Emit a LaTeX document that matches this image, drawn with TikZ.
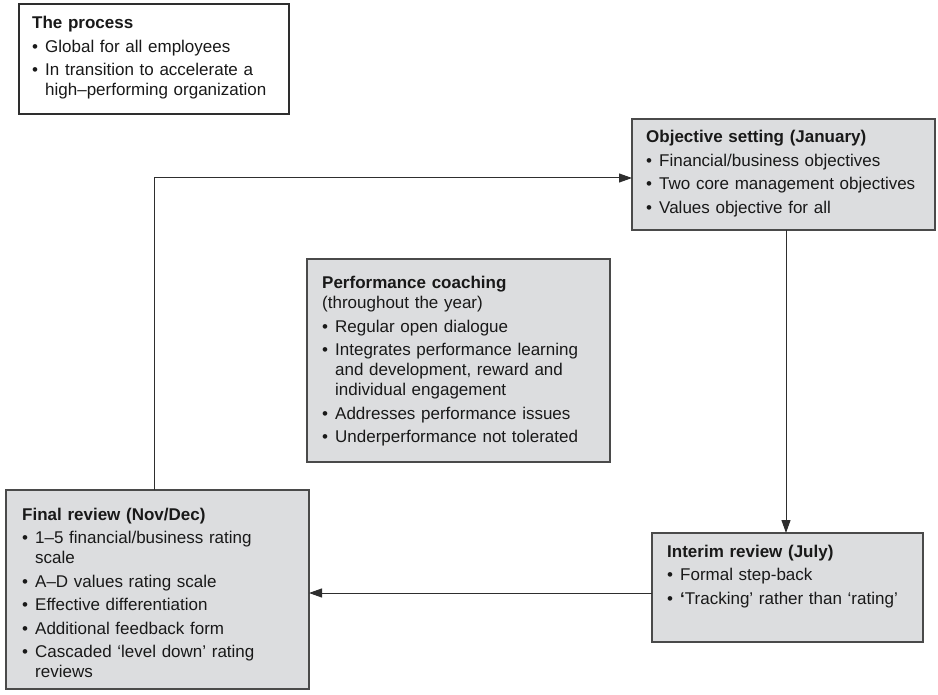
\documentclass[tikz,border=0pt]{standalone}
\usepackage{fontspec}
\setmainfont{Liberation Sans}
\usetikzlibrary{arrows.meta}
\definecolor{boxfill}{HTML}{DCDDDF}
\definecolor{boxedge}{HTML}{4A4A4A}
\definecolor{linkcol}{HTML}{2E2E2E}
% bulleted entry with a hanging indent for wrapped lines
\newcommand{\bitem}[1]{\par\vspace{3.5pt}\noindent\hangindent=13pt\hangafter=1\relax\makebox[13pt][l]{\textbullet}#1\par}
\begin{document}
\begin{tikzpicture}[x=1pt,y=-1pt,
  panel/.style={draw=boxedge, line width=1.3pt, fill=boxfill, anchor=north west, inner sep=0pt, outer sep=0pt},
  plainpanel/.style={panel, fill=white, draw=linkcol, line width=1.1pt},
  txt/.style={anchor=base west, inner sep=0pt, font=\fontsize{17}{20}\selectfont, text=black!90},
  link/.style={draw=linkcol, line width=1pt},
  arrowlink/.style={link, -{Triangle[length=13pt,width=9pt]}}]
\useasboundingbox (0,0) rectangle (938,695);

% panels
\node[plainpanel, minimum width=270pt, minimum height=110pt] (proc) at (19,4) {};
\node[panel, minimum width=303pt, minimum height=111pt] (obj) at (632,119) {};
\node[panel, minimum width=303pt, minimum height=203pt] (perf) at (307,259) {};
\node[panel, minimum width=303pt, minimum height=199pt] (final) at (6,490) {};
\node[panel, minimum width=271pt, minimum height=109pt] (inter) at (652,533) {};

% panel texts
\node[txt, text width=260pt] (proctext) at (32,29) {{\bfseries The process}
\bitem{Global for all employees}
\bitem{In transition to accelerate a\newline high–performing organization}};

\node[txt, text width=285pt] (objtext) at (646,143) {{\bfseries Objective setting (January)}
\bitem{Financial/business objectives}
\bitem{Two core management objectives}
\bitem{Values objective for all}};

\node[txt, text width=285pt] (perftext) at (322,289) {{\bfseries Performance coaching}\newline (throughout the year)
\bitem{Regular open dialogue}
\bitem{Integrates performance learning\newline and development, reward and\newline individual engagement}
\bitem{Addresses performance issues}
\bitem{Underperformance not tolerated}};

\node[txt, text width=285pt] (finaltext) at (22,520) {{\bfseries Final review (Nov/Dec)}
\bitem{1–5 financial/business rating\newline scale}
\bitem{A–D values rating scale}
\bitem{Effective differentiation}
\bitem{Additional feedback form}
\bitem{Cascaded ‘level down’ rating\newline reviews}};

\node[txt, text width=255pt] (intertext) at (667,557) {{\bfseries Interim review (July)}
\bitem{Formal step-back}
\bitem{{\bfseries ‘}Tracking’ rather than ‘rating’}};

% connectors
\coordinate (turn) at (154,178);
\coordinate (drop) at (786,0);
\coordinate (mid) at (0,593);
\draw[arrowlink] (final.north -| turn) -- (turn) -- (turn -| obj.west);
\draw[arrowlink] (obj.south -| drop) -- (inter.north -| drop);
\draw[arrowlink] (inter.west |- mid) -- (final.east |- mid);
\end{tikzpicture}
\end{document}
